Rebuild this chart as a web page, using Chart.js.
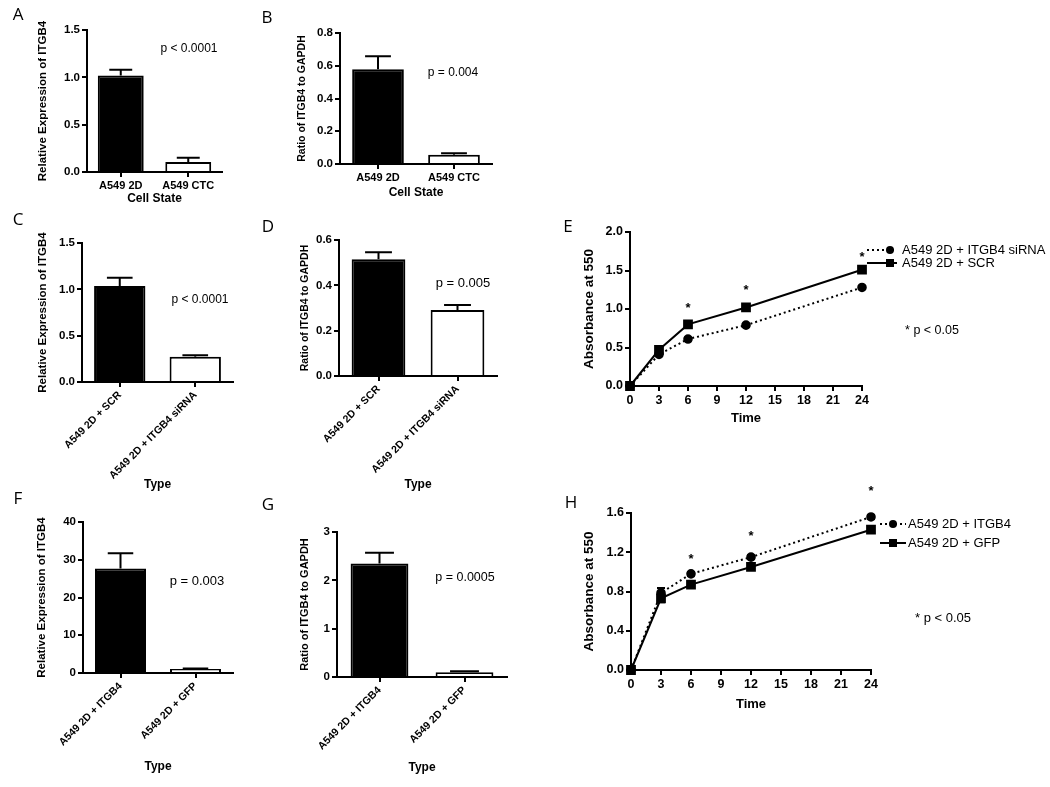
<!DOCTYPE html>
<html>
<head>
<meta charset="utf-8">
<script src="https://cdn.jsdelivr.net/npm/chart.js@4.4.1/dist/chart.umd.min.js"></script>
<style>
  body { margin: 0; background: #fff; }
  #page { position: relative; width: 1050px; height: 787px; overflow: hidden; background: #fff; }
  canvas { position: absolute; }
  .lbl { position: absolute; transform: translate(-50%, -50%); white-space: nowrap; color: #000;
         font-family: 'Liberation Sans', Arial, sans-serif; line-height: 1; }
  .letter { font-family: 'Open Sans', 'Liberation Sans', sans-serif; }
</style>
</head>
<body>
<div id="page"></div>
<script>
const FONT = "'Liberation Sans', Arial, sans-serif";

// A / B : cell state
const cellStates = ['A549 2D', 'A549 CTC'];
const exprA = [1.02, 0.105];
const errA = [0.06, 0.045];
const ratioB = [0.578, 0.057];
const errB = [0.08, 0.008];

// C / D : knockdown
const typesCD = ['A549 2D + SCR', 'A549 2D + ITGB4 siRNA'];
const exprC = [1.036, 0.273];
const errC = [0.09, 0.017];
const ratioD = [0.515, 0.291];
const errD = [0.031, 0.022];

// F / G : overexpression
const typesFG = ['A549 2D + ITGB4', 'A549 2D + GFP'];
const exprF = [27.7, 1.06];
const errF = [4.0, 0.15];
const ratioG = [2.35, 0.10];
const errG = [0.22, 0.02];

// E : absorbance, knockdown
const hoursE = [0, 3, 6, 12, 24];
const sirnaE = [0, 0.41, 0.61, 0.79, 1.28];
const sirnaErrE = [0, 0.02, 0.02, 0.02, 0.02];
const scrE = [0, 0.47, 0.80, 1.02, 1.51];
const scrErrE = [0, 0.02, 0.02, 0.02, 0.04];
const starHoursE = [6, 12, 24];
const starLevelE = [1.06, 1.29, 1.72];

// H : absorbance, overexpression
const hoursH = [0, 3, 6, 12, 24];
const itgb4H = [0, 0.785, 0.98, 1.15, 1.56];
const itgb4ErrH = [0, 0.05, 0.02, 0.02, 0.02];
const gfpH = [0, 0.73, 0.87, 1.05, 1.43];
const gfpErrH = [0, 0.04, 0.02, 0.02, 0.03];
const starHoursH = [6, 12, 24];
const starLevelH = [1.17, 1.40, 1.855];

const page = document.getElementById('page');

function addText(text, cx, cy, size, cls) {
    const d = document.createElement('div');
    d.className = 'lbl' + (cls ? ' ' + cls : '');
    d.textContent = text;
    d.style.left = cx + 'px';
    d.style.top = cy + 'px';
    d.style.fontSize = size + 'px';
    page.appendChild(d);
}

function makeCanvas(box) {
    const c = document.createElement('canvas');
    c.width = box[2];
    c.height = box[3];
    c.style.left = box[0] + 'px';
    c.style.top = box[1] + 'px';
    c.style.width = box[2] + 'px';
    c.style.height = box[3] + 'px';
    page.appendChild(c);
    return c;
}

// work out paddings + fixed axis sizes so the plot area lands where it does in the figure
function frame(p) {
    const box = p.box;
    const yEdge = p.yTitleX - p.yTitleSize * 0.6;
    const xEdge = p.xTitleY + p.xTitleSize * 0.6;
    return {
        padding: {
            left: yEdge - box[0],
            top: p.area.t - box[1],
            right: box[0] + box[2] - p.area.r,
            bottom: box[1] + box[3] - xEdge
        },
        yWidth: p.area.l - yEdge,
        xHeight: xEdge - p.area.b
    };
}

const errBars = {
    id: 'errbars',
    afterDatasetsDraw(chart, args, opts) {
        if (!opts.err) return;
        const ctx = chart.ctx;
        const y = chart.scales.y;
        ctx.save();
        ctx.strokeStyle = '#000';
        ctx.lineWidth = 2;
        chart.data.datasets.forEach((ds, di) => {
            const errs = opts.err[di];
            if (!errs) return;
            chart.getDatasetMeta(di).data.forEach((el, i) => {
                const e = errs[i];
                if (!e) return;
                const raw = ds.data[i];
                const val = typeof raw === 'object' ? raw.y : raw;
                const top = y.getPixelForValue(val + e);
                const bot = opts.both ? y.getPixelForValue(val - e) : el.y;
                const half = opts.cap ? opts.cap : el.width / 4;
                ctx.beginPath();
                ctx.moveTo(el.x, bot);
                ctx.lineTo(el.x, top);
                ctx.moveTo(el.x - half, top);
                ctx.lineTo(el.x + half, top);
                if (opts.both) {
                    ctx.moveTo(el.x - half, bot);
                    ctx.lineTo(el.x + half, bot);
                }
                ctx.stroke();
            });
        });
        ctx.restore();
    }
};

const stars = {
    id: 'stars',
    afterDraw(chart, args, opts) {
        if (!opts.x) return;
        const ctx = chart.ctx;
        ctx.save();
        ctx.fillStyle = '#000';
        ctx.font = `bold ${opts.size}px ${FONT}`;
        ctx.textAlign = 'center';
        ctx.textBaseline = 'alphabetic';
        opts.x.forEach((xv, i) => {
            const px = chart.scales.x.getPixelForValue(xv);
            const py = chart.scales.y.getPixelForValue(opts.y[i]);
            ctx.fillText('*', px, py + opts.size * 0.57);
        });
        ctx.restore();
    }
};

const seriesKey = {
    id: 'serieskey',
    afterDraw(chart, args, opts) {
        if (opts.x == null) return;
        const ctx = chart.ctx;
        ctx.save();
        chart.data.datasets.forEach((ds, i) => {
            const y = opts.y[i];
            ctx.strokeStyle = '#000';
            ctx.lineWidth = 2;
            ctx.setLineDash(ds.borderDash || []);
            ctx.beginPath();
            ctx.moveTo(opts.x, y);
            ctx.lineTo(opts.x + opts.len, y);
            ctx.stroke();
            ctx.setLineDash([]);
            ctx.fillStyle = '#000';
            const mx = opts.x + opts.mark;
            if (ds.pointStyle === 'circle') {
                ctx.beginPath();
                ctx.arc(mx, y, 4, 0, Math.PI * 2);
                ctx.fill();
            } else {
                ctx.fillRect(mx - 4, y - 4, 8, 8);
            }
            ctx.font = `${opts.size}px ${FONT}`;
            ctx.textAlign = 'left';
            ctx.textBaseline = 'middle';
            ctx.fillText(ds.label, opts.tx, y);
        });
        ctx.restore();
    }
};

function axisCommon(tickSize) {
    return {
        grid: { display: true, drawOnChartArea: false, drawTicks: true, tickLength: 5,
                color: '#000', lineWidth: 2, offset: false },
        border: { display: true, color: '#000', width: 2 },
        ticks: { color: '#000', padding: 2, font: { family: FONT, size: tickSize, weight: 'bold' } }
    };
}

function barPanel(p) {
    const f = frame(p);
    const x = axisCommon(p.catSize);
    const y = axisCommon(11.5);
    new Chart(makeCanvas(p.box), {
        type: 'bar',
        data: {
            labels: p.labels,
            datasets: [{
                data: p.values,
                backgroundColor: ['#000', '#fff'],
                borderColor: '#000',
                borderWidth: 2,
                barPercentage: 0.68,
                categoryPercentage: 1
            }]
        },
        options: {
            responsive: false,
            animation: false,
            layout: { padding: f.padding },
            plugins: {
                legend: { display: false },
                tooltip: { enabled: false },
                errbars: { err: [p.err] }
            },
            scales: {
                x: {
                    ...x,
                    afterFit: s => { s.height = f.xHeight; },
                    ticks: { ...x.ticks, autoSkip: false, minRotation: p.rot, maxRotation: p.rot },
                    title: { display: true, text: p.xTitle, color: '#000', padding: 0,
                             font: { family: FONT, size: p.xTitleSize, weight: 'bold' } }
                },
                y: {
                    ...y,
                    min: 0,
                    max: p.max,
                    afterFit: s => { s.width = f.yWidth; },
                    ticks: { ...y.ticks, stepSize: p.step, callback: v => v.toFixed(p.dec) },
                    title: { display: true, text: p.yTitle, color: '#000', padding: 0,
                             font: { family: FONT, size: p.yTitleSize, weight: 'bold' } }
                }
            }
        },
        plugins: [errBars]
    });
}

function linePanel(p) {
    const f = frame(p);
    const x = axisCommon(12.5);
    const y = axisCommon(12.5);
    const toCanvasX = v => v - p.box[0];
    const toCanvasY = v => v - p.box[1];
    new Chart(makeCanvas(p.box), {
        type: 'line',
        data: {
            datasets: p.series.map(s => ({
                label: s.label,
                data: p.hours.map((h, i) => ({ x: h, y: s.values[i] })),
                borderColor: '#000',
                backgroundColor: '#000',
                borderWidth: 2,
                borderDash: s.dash,
                pointStyle: s.point,
                pointRadius: s.point === 'circle' ? 3.8 : 5.5,
                tension: 0,
                clip: false
            }))
        },
        options: {
            responsive: false,
            animation: false,
            layout: { padding: f.padding },
            plugins: {
                legend: { display: false },
                tooltip: { enabled: false },
                errbars: { err: p.series.map(s => s.err), both: true, cap: 4 },
                stars: { x: p.starX, y: p.starY, size: 13 },
                serieskey: {
                    x: toCanvasX(p.key.x), len: p.key.len, mark: p.key.mark, tx: toCanvasX(p.key.tx),
                    y: p.key.y.map(toCanvasY), size: 13
                }
            },
            scales: {
                x: {
                    ...x,
                    type: 'linear',
                    min: 0,
                    max: 24,
                    afterFit: s => { s.height = f.xHeight; },
                    ticks: { ...x.ticks, stepSize: 3 },
                    title: { display: true, text: 'Time', color: '#000', padding: 0,
                             font: { family: FONT, size: p.xTitleSize, weight: 'bold' } }
                },
                y: {
                    ...y,
                    min: 0,
                    max: p.max,
                    afterFit: s => { s.width = f.yWidth; },
                    ticks: { ...y.ticks, stepSize: p.step, callback: v => v.toFixed(1) },
                    title: { display: true, text: 'Absorbance at 550', color: '#000', padding: 0,
                             font: { family: FONT, size: p.yTitleSize, weight: 'bold' } }
                }
            }
        },
        plugins: [errBars, stars, seriesKey]
    });
}

barPanel({ box: [0, 18, 258, 192], area: { l: 87, t: 30, r: 222, b: 172 },
    yTitle: 'Relative Expression of ITGB4', yTitleX: 43, yTitleSize: 11.5,
    xTitle: 'Cell State', xTitleY: 199, xTitleSize: 12, catSize: 11, rot: 0,
    labels: cellStates, values: exprA, err: errA, max: 1.5, step: 0.5, dec: 1 });

barPanel({ box: [262, 20, 258, 185], area: { l: 340, t: 33, r: 492, b: 164 },
    yTitle: 'Ratio of ITGB4 to GAPDH', yTitleX: 302, yTitleSize: 10.5,
    xTitle: 'Cell State', xTitleY: 193, xTitleSize: 12, catSize: 11, rot: 0,
    labels: cellStates, values: ratioB, err: errB, max: 0.8, step: 0.2, dec: 1 });

barPanel({ box: [0, 230, 258, 265], area: { l: 82, t: 243, r: 233, b: 382 },
    yTitle: 'Relative Expression of ITGB4', yTitleX: 43, yTitleSize: 11.5,
    xTitle: 'Type', xTitleY: 485, xTitleSize: 12, catSize: 10.5, rot: 45,
    labels: typesCD, values: exprC, err: errC, max: 1.5, step: 0.5, dec: 1 });

barPanel({ box: [262, 228, 258, 267], area: { l: 339, t: 240, r: 497, b: 376 },
    yTitle: 'Ratio of ITGB4 to GAPDH', yTitleX: 305, yTitleSize: 10.5,
    xTitle: 'Type', xTitleY: 485, xTitleSize: 12, catSize: 10.5, rot: 45,
    labels: typesCD, values: ratioD, err: errD, max: 0.6, step: 0.2, dec: 1 });

barPanel({ box: [0, 508, 258, 272], area: { l: 83, t: 522, r: 233, b: 673 },
    yTitle: 'Relative Expression of ITGB4', yTitleX: 42, yTitleSize: 11.5,
    xTitle: 'Type', xTitleY: 767, xTitleSize: 12, catSize: 10.5, rot: 45,
    labels: typesFG, values: exprF, err: errF, max: 40, step: 10, dec: 0 });

barPanel({ box: [262, 515, 258, 265], area: { l: 337, t: 532, r: 507, b: 677 },
    yTitle: 'Ratio of ITGB4 to GAPDH', yTitleX: 305, yTitleSize: 11,
    xTitle: 'Type', xTitleY: 768, xTitleSize: 12, catSize: 10.5, rot: 45,
    labels: typesFG, values: ratioG, err: errG, max: 3, step: 1, dec: 0 });

linePanel({ box: [570, 215, 480, 215], area: { l: 630, t: 232, r: 862, b: 386 },
    yTitleX: 589, yTitleSize: 13.5, xTitleY: 418, xTitleSize: 13,
    max: 2.0, step: 0.5, hours: hoursE,
    series: [
        { label: 'A549 2D + ITGB4 siRNA', values: sirnaE, err: sirnaErrE, dash: [2, 3], point: 'circle' },
        { label: 'A549 2D + SCR', values: scrE, err: scrErrE, dash: [], point: 'rect' }
    ],
    starX: starHoursE, starY: starLevelE,
    key: { x: 867, len: 30, mark: 23, tx: 902, y: [250, 263] } });

linePanel({ box: [570, 475, 480, 240], area: { l: 631, t: 513, r: 871, b: 670 },
    yTitleX: 589, yTitleSize: 13.5, xTitleY: 704, xTitleSize: 13,
    max: 1.6, step: 0.4, hours: hoursH,
    series: [
        { label: 'A549 2D + ITGB4', values: itgb4H, err: itgb4ErrH, dash: [2, 3], point: 'circle' },
        { label: 'A549 2D + GFP', values: gfpH, err: gfpErrH, dash: [], point: 'rect' }
    ],
    starX: starHoursH, starY: starLevelH,
    key: { x: 880, len: 26, mark: 13, tx: 908, y: [524, 543] } });

// p values and notes
addText('p < 0.0001', 189, 48, 12);
addText('p = 0.004', 453, 72, 12);
addText('p < 0.0001', 200, 299, 12);
addText('p = 0.005', 463, 282, 13);
addText('p = 0.003', 197, 580, 13);
addText('p = 0.0005', 465, 577, 12.5);
addText('* p < 0.05', 932, 330, 12.5);
addText('* p < 0.05', 943, 617, 13);

// panel letters
addText('A', 18, 13, 17, 'letter');
addText('B', 267, 16, 17, 'letter');
addText('C', 18, 218, 17, 'letter');
addText('D', 268, 225, 17, 'letter');
addText('E', 568, 225, 17, 'letter');
addText('F', 18, 497, 17, 'letter');
addText('G', 268, 503, 17, 'letter');
addText('H', 571, 501, 17, 'letter');
</script>
</body>
</html>
